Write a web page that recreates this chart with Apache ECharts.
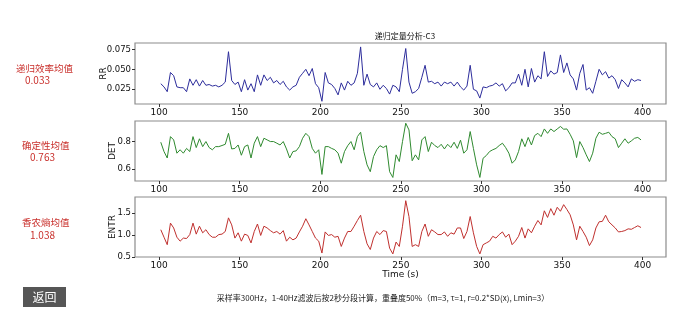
<!DOCTYPE html>
<html>
<head>
<meta charset="utf-8">
<script src="https://cdn.jsdelivr.net/npm/echarts@6/dist/echarts.min.js"></script>
<style>
  html, body { margin: 0; padding: 0; background: #fff; }
  #chart { width: 700px; height: 333px; }
</style>
</head>
<body>
<div id="chart"></div>
<script>
// Segment centres: 2 s windows, one value every 2 s from 101 s to 399 s
const timeStart = 101;
const timeStep = 2;

// Recurrence rate per segment
const rrValues = [
  0.032,0.028,0.022,0.046,0.042, 0.028,0.027,0.027,0.022,0.038,
  0.030,0.037,0.029,0.036,0.030, 0.031,0.029,0.030,0.028,0.030,
  0.034,0.072,0.036,0.031,0.034, 0.022,0.037,0.024,0.032,0.022,
  0.043,0.030,0.043,0.036,0.040, 0.033,0.036,0.031,0.035,0.028,
  0.024,0.028,0.030,0.040,0.045, 0.050,0.042,0.051,0.032,0.027,
  0.010,0.046,0.033,0.031,0.026, 0.018,0.033,0.024,0.035,0.030,
  0.033,0.045,0.078,0.030,0.044, 0.031,0.028,0.033,0.025,0.030,
  0.026,0.019,0.030,0.028,0.022, 0.050,0.076,0.034,0.020,0.022,
  0.026,0.040,0.055,0.034,0.035, 0.032,0.034,0.029,0.034,0.032,
  0.034,0.029,0.034,0.028,0.024, 0.029,0.055,0.025,0.023,0.014,
  0.028,0.027,0.029,0.030,0.033, 0.029,0.032,0.023,0.027,0.033,
  0.033,0.044,0.030,0.050,0.028, 0.051,0.034,0.042,0.038,0.072,
  0.041,0.048,0.044,0.046,0.068, 0.046,0.058,0.043,0.038,0.024,
  0.045,0.056,0.024,0.027,0.020, 0.035,0.050,0.043,0.047,0.039,
  0.042,0.037,0.026,0.037,0.033, 0.028,0.038,0.035,0.037,0.036
];

// Determinism per segment
const detValues = [
  0.795,0.727,0.680,0.836,0.812, 0.715,0.740,0.715,0.750,0.727,
  0.836,0.756,0.820,0.763,0.800, 0.756,0.740,0.763,0.763,0.771,
  0.780,0.860,0.746,0.750,0.775, 0.700,0.763,0.775,0.680,0.788,
  0.836,0.763,0.824,0.812,0.800, 0.800,0.788,0.775,0.800,0.746,
  0.680,0.727,0.732,0.763,0.824, 0.860,0.836,0.750,0.715,0.740,
  0.560,0.763,0.763,0.750,0.740, 0.715,0.642,0.727,0.770,0.800,
  0.740,0.836,0.868,0.727,0.630, 0.580,0.690,0.740,0.770,0.756,
  0.770,0.580,0.538,0.703,0.654, 0.800,0.934,0.885,0.660,0.703,
  0.666,0.812,0.836,0.727,0.795, 0.771,0.756,0.780,0.746,0.780,
  0.756,0.795,0.750,0.810,0.715, 0.740,0.873,0.750,0.630,0.538,
  0.678,0.698,0.727,0.740,0.750, 0.771,0.788,0.756,0.715,0.642,
  0.666,0.727,0.820,0.763,0.830, 0.775,0.844,0.860,0.836,0.892,
  0.860,0.892,0.873,0.892,0.910, 0.890,0.892,0.853,0.805,0.683,
  0.800,0.756,0.703,0.654,0.715, 0.824,0.868,0.853,0.860,0.868,
  0.836,0.820,0.756,0.788,0.820, 0.788,0.805,0.824,0.830,0.812
];

// Shannon entropy of line lengths per segment
const entrValues = [
  1.12,0.95,0.78,1.27,1.16, 0.95,0.86,0.93,0.92,1.01,
  1.27,1.02,1.20,1.05,1.12, 1.01,0.95,0.95,1.01,1.02,
  1.08,1.39,1.23,0.93,1.05, 0.86,1.02,0.99,0.82,1.08,
  1.25,0.99,1.20,1.16,1.10, 1.05,1.08,1.02,1.10,0.86,
  0.95,0.89,0.93,1.07,1.20, 1.37,1.23,1.08,0.93,0.86,
  0.59,1.07,0.99,1.01,0.95, 0.97,0.74,0.93,1.08,1.08,
  1.20,1.33,1.45,1.08,0.80, 0.67,0.93,1.08,1.01,1.10,
  1.08,0.70,0.57,0.84,0.74, 1.20,1.78,1.42,0.74,0.78,
  0.74,1.08,1.25,0.97,1.12, 1.07,1.01,1.01,1.07,0.97,
  1.05,1.02,1.16,1.16,0.92, 1.08,1.42,1.05,0.74,0.57,
  0.78,0.82,0.86,0.97,0.93, 1.01,1.07,0.95,1.02,0.78,
  0.86,0.97,1.17,0.93,1.14, 1.05,1.20,1.33,1.23,1.55,
  1.40,1.60,1.45,1.63,1.54, 1.69,1.58,1.46,1.23,0.89,
  1.20,1.08,0.95,0.76,0.89, 1.16,1.30,1.31,1.45,1.30,
  1.23,1.16,1.07,1.08,1.10, 1.14,1.13,1.17,1.21,1.17
];

// Tick positions
const timeTicks = [100, 150, 200, 250, 300, 350, 400];
const rrTicks = [0.025, 0.050, 0.075];
const detTicks = [0.6, 0.8];
const entrTicks = [0.5, 1.0, 1.5];

// Summary labels
const titleText = '递归定量分析-C3';
const metricNames = ['递归效率均值', '确定性均值', '香农熵均值'];
const metricMeans = ['0.033', '0.763', '1.038'];
const axisNames = ['RR', 'DET', 'ENTR'];
const timeAxisName = 'Time (s)';
const noteText = '采样率300Hz，1-40Hz滤波后按2秒分段计算，重叠度50%（m=3, τ=1, r=0.2*SD(x), Lmin=3）';
const backText = '返回';

const times = rrValues.map((_, i) => timeStart + i * timeStep);
const pairs = vals => vals.map((v, i) => [times[i], v]);

const latin = 'DejaVu Sans, Noto Sans CJK SC, sans-serif';
const cjk = 'Noto Sans CJK SC, DejaVu Sans, sans-serif';
const red = '#c9302c';

const panels = [
  { top: 43,  height: 61, min: 0.0066, max: 0.0829, ticks: rrTicks,   fmt: v => v.toFixed(3), data: rrValues,   color: '#2d2d9c', nameGap: 27 },
  { top: 121, height: 60, min: 0.512,  max: 0.950,  ticks: detTicks,  fmt: v => v.toFixed(1), data: detValues,  color: '#2f8a2f', nameGap: 18 },
  { top: 197, height: 60, min: 0.500,  max: 1.864,  ticks: entrTicks, fmt: v => v.toFixed(1), data: entrValues, color: '#c0302e', nameGap: 18 }
];

const option = {
  animation: false,
  backgroundColor: '#fff',
  title: {
    text: titleText, left: 400, top: 27, textAlign: 'center',
    textStyle: { fontFamily: cjk, fontSize: 8, fontWeight: 'normal', color: '#111' }
  },
  grid: panels.map(p => ({
    left: 135, width: 531, top: p.top, height: p.height,
    show: true, borderColor: '#8c8c8c', borderWidth: 1.2, backgroundColor: 'transparent'
  })),
  xAxis: panels.map((p, i) => ({
    type: 'value', gridIndex: i, min: 85, max: 414.5,
    name: i === 2 ? timeAxisName : '', nameLocation: 'middle', nameGap: 13, nameMoveOverlap: false,
    nameTextStyle: { fontFamily: latin, fontSize: 9, color: '#111' },
    splitLine: { show: false }, axisLine: { show: false },
    axisTick: { show: true, length: 3, lineStyle: { color: '#333' }, customValues: timeTicks },
    axisLabel: { fontFamily: latin, fontSize: 9, color: '#111', margin: 4, customValues: timeTicks }
  })),
  yAxis: panels.map((p, i) => ({
    type: 'value', gridIndex: i, min: p.min, max: p.max,
    name: axisNames[i], nameLocation: 'middle', nameGap: p.nameGap, nameMoveOverlap: false,
    nameTextStyle: { fontFamily: latin, fontSize: 9, color: '#111' },
    splitLine: { show: false }, axisLine: { show: false },
    axisTick: { show: true, length: 3, lineStyle: { color: '#333' }, customValues: p.ticks },
    axisLabel: { fontFamily: latin, fontSize: 8.5, color: '#111', margin: 4, customValues: p.ticks, formatter: p.fmt }
  })),
  series: panels.map((p, i) => ({
    type: 'line', xAxisIndex: i, yAxisIndex: i, data: pairs(p.data),
    showSymbol: false, symbol: 'none',
    lineStyle: { color: p.color, width: 1 }
  })),
  graphic: [
    ...metricNames.map((n, i) => ({
      type: 'text', left: [16, 22, 22][i], top: [64, 141, 218][i],
      style: { text: n, fill: red, font: '9.5px ' + cjk }
    })),
    ...metricMeans.map((m, i) => ({
      type: 'text', left: [25, 30, 30][i], top: [75, 152, 230][i],
      style: { text: m, fill: red, font: '10px ' + cjk }
    })),
    {
      type: 'group', left: 23, top: 287,
      children: [
        { type: 'rect', shape: { x: 0, y: 0, width: 43, height: 20 }, style: { fill: '#565656' } },
        { type: 'text', x: 21.5, y: 10, style: { text: backText, fill: '#fff', font: '12px ' + cjk, align: 'center', verticalAlign: 'middle' } }
      ]
    },
    {
      type: 'text', x: 383, y: 298,
      style: { text: noteText, fill: '#222', font: '8px ' + cjk, align: 'center', verticalAlign: 'middle' }
    }
  ]
};

echarts.init(document.getElementById('chart'), null, { renderer: 'canvas' }).setOption(option);
</script>
</body>
</html>
